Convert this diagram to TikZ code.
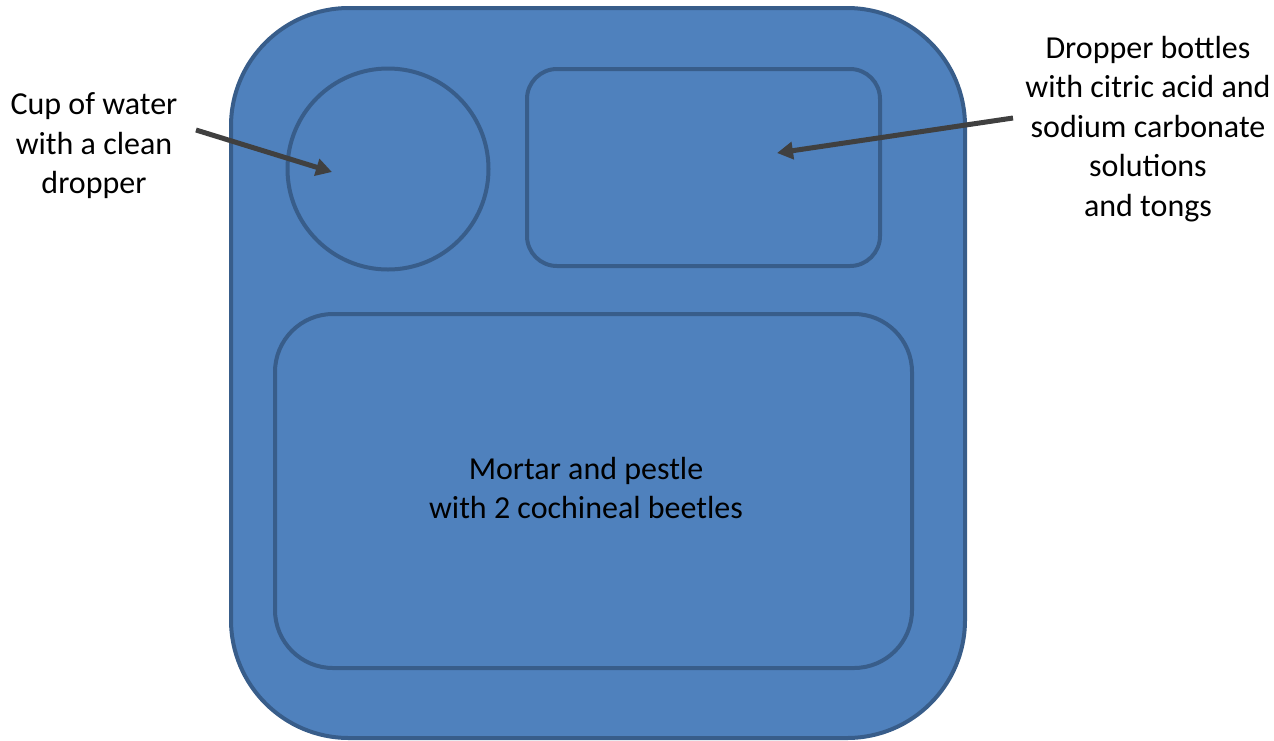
\documentclass[tikz,border=0pt]{standalone}
\usepackage{fontspec}
\setmainfont{Carlito}
\usetikzlibrary{arrows.meta}
\definecolor{trayfill}{HTML}{4F81BD}
\definecolor{trayline}{HTML}{385D8A}
\definecolor{arrowgray}{HTML}{404040}
\tikzset{
  tray/.style={draw=trayline, fill=trayfill, line width=4pt},
  compart/.style={draw=trayline, line width=4pt},
  lbl/.style={align=center, font=\fontsize{32}{39.5}\selectfont, inner sep=0pt},
  pointer/.style={draw=arrowgray, line width=5pt, -{Triangle[length=16pt,width=17pt]}}
}
\begin{document}
\begin{tikzpicture}[x=1pt,y=-1pt]
\useasboundingbox (0,0) rectangle (1274,740);
% tray
\draw[tray, rounded corners=118pt] (231,8) rectangle (965,738);
% compartments
\node[compart, circle, minimum size=201pt, inner sep=0pt] (cup) at (388,169) {};
\draw[compart, rounded corners=30pt] (527,69) rectangle (880,266);
\coordinate (bottles) at (703,167);
\draw[compart, rounded corners=58pt] (275,314) rectangle (912,668);
% labels
\node[lbl] (cuplbl) at (94,146) {Cup of water\\with a clean\\dropper};
\node[lbl] (botlbl) at (1148,129) {Dropper bottles\\with citric acid and\\sodium carbonate\\solutions\\and tongs};
\node[lbl] (mortar) at (586,488) {Mortar and pestle\\with 2 cochineal beetles};
% pointers
\coordinate (a1s) at (196,130);
\coordinate (a1e) at (332,172);
\coordinate (a2s) at (1013,118);
\coordinate (a2e) at (777,153);
\draw[pointer] (a1s) -- (a1e);
\draw[pointer] (a2s) -- (a2e);
\end{tikzpicture}
\end{document}
